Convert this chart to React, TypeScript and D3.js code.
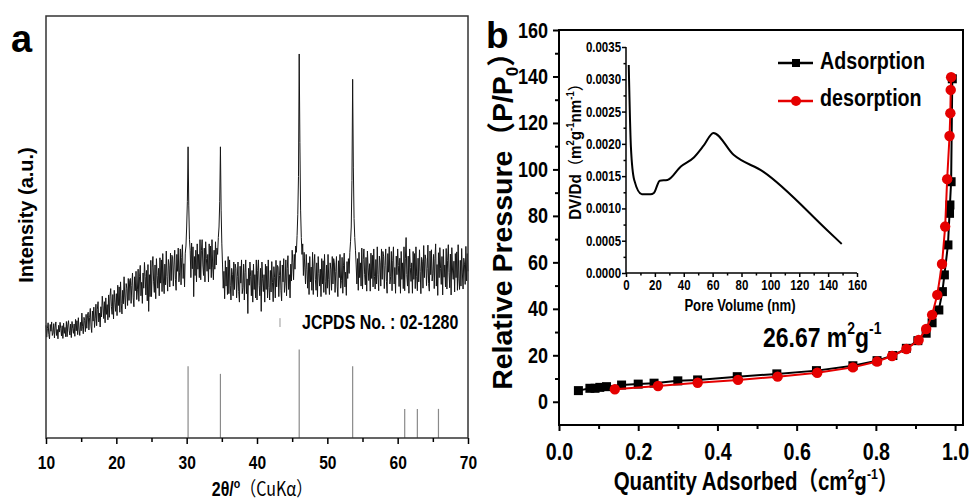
import React, { useEffect, useRef } from 'react'
import * as d3 from 'd3'

// panel a: XRD pattern, intensity (a.u.) read every 0.1 deg from 10 to 70 (one row per degree)
const thetaStart = 10
const thetaStep = 0.1
const xrdIntensity = [
  26.7, 23.9, 25.9, 27.3, 24.5, 23.5, 26.9, 25.3, 27.5, 24.3,
  24.9, 27.1, 23.7, 26.3, 27.5, 24.3, 25.7, 23.5, 26.7, 25.1,
  27.4, 26.0, 24.2, 26.6, 23.6, 27.2, 24.8, 26.2, 24.0, 27.6,
  24.0, 26.8, 27.8, 25.4, 24.4, 27.0, 23.8, 27.6, 26.0, 24.8,
  27.0, 24.1, 28.1, 25.4, 27.8, 24.5, 28.5, 25.6, 24.3, 27.4,
  25.4, 29.6, 26.5, 24.7, 28.6, 27.8, 25.2, 29.3, 26.0, 29.1,
  29.8, 25.6, 28.6, 30.7, 26.5, 25.0, 30.1, 27.7, 31.0, 26.2,
  28.4, 31.7, 26.6, 30.5, 32.3, 27.5, 29.6, 26.3, 31.1, 28.7,
  33.6, 31.3, 28.3, 32.3, 27.3, 33.2, 29.3, 31.6, 28.0, 33.9,
  28.6, 33.6, 35.4, 31.1, 29.3, 34.0, 28.2, 35.0, 32.2, 30.0,
  34.2, 29.0, 36.2, 31.4, 35.8, 29.8, 37.0, 31.8, 29.4, 35.0,
  31.8, 38.2, 33.4, 30.6, 36.6, 35.4, 31.4, 37.8, 32.6, 37.4,
  37.8, 31.9, 36.1, 39.1, 33.2, 31.1, 38.2, 34.9, 39.5, 32.8,
  35.1, 40.0, 32.4, 38.2, 40.9, 33.7, 36.9, 31.9, 39.1, 35.5,
  41.6, 38.3, 33.9, 39.7, 32.5, 41.1, 30.0, 38.7, 33.5, 42.1,
  33.5, 40.5, 43.0, 37.0, 34.5, 41.0, 33.0, 42.5, 38.5, 35.5,
  40.2, 33.7, 42.7, 36.7, 42.2, 34.7, 43.7, 37.2, 34.2, 41.2,
  36.3, 44.3, 38.3, 34.8, 42.3, 40.8, 35.8, 43.8, 37.3, 43.3,
  43.0, 36.0, 41.0, 44.5, 37.5, 35.0, 43.5, 39.5, 45.0, 37.0,
  39.3, 44.8, 36.3, 42.8, 45.8, 37.8, 41.3, 35.8, 43.8, 45.5,
  50.0, 56.0, 69.0, 55.0, 47.0, 44.5, 38.0, 46.2, 40.1, 45.3,
  33.5, 43.0, 38.5, 44.5, 37.0, 46.0, 40.0, 43.5, 38.0, 47.0,
  37.5, 44.5, 47.0, 41.0, 38.5, 45.0, 37.0, 46.5, 42.5, 39.5,
  43.5, 37.0, 46.0, 40.0, 45.5, 38.0, 47.0, 40.5, 37.5, 44.5,
  40.0, 46.5, 41.0, 45.0, 43.5, 47.5, 50.0, 56.0, 69.0, 54.0,
  46.0, 41.0, 35.5, 39.5, 33.0, 42.0, 36.0, 40.5, 34.0, 43.0,
  34.2, 42.2, 36.2, 32.7, 40.2, 38.7, 33.7, 41.7, 35.2, 41.2,
  40.2, 33.2, 38.2, 41.7, 34.7, 32.2, 40.7, 36.7, 42.2, 34.2,
  35.7, 41.2, 32.7, 39.2, 42.2, 34.2, 37.7, 29.5, 40.2, 36.2,
  41.7, 38.2, 33.7, 39.7, 32.2, 41.2, 35.2, 38.7, 33.2, 42.2,
  32.7, 39.7, 42.2, 36.2, 33.7, 40.2, 30.0, 41.7, 37.7, 34.7,
  38.7, 32.2, 41.2, 35.2, 40.7, 33.2, 42.2, 35.7, 32.7, 39.7,
  34.6, 41.8, 36.9, 32.3, 40.6, 38.1, 33.2, 42.1, 35.8, 40.9,
  40.5, 33.5, 38.5, 42.0, 35.0, 32.5, 41.0, 37.0, 42.5, 34.5,
  36.7, 42.2, 33.7, 40.2, 43.2, 35.2, 38.7, 33.2, 41.2, 37.2,
  44.5, 41.5, 37.5, 43.5, 40.0, 45.5, 44.0, 48.0, 53.0, 62.0,
  91.0, 70.0, 54.0, 47.5, 43.5, 46.0, 38.5, 44.0, 40.5, 36.5,
  43.5, 40.0, 35.5, 41.5, 34.0, 43.0, 37.0, 40.5, 35.0, 44.0,
  34.0, 41.0, 43.5, 37.5, 35.0, 41.5, 33.5, 43.0, 39.0, 36.0,
  40.0, 33.5, 42.5, 36.5, 42.0, 34.5, 43.5, 37.0, 34.0, 41.0,
  35.5, 43.5, 37.5, 34.0, 41.5, 40.0, 35.0, 43.0, 36.5, 42.5,
  41.5, 34.5, 39.5, 43.0, 36.0, 33.5, 42.0, 38.0, 43.5, 35.5,
  37.3, 42.8, 34.3, 40.8, 43.8, 35.8, 39.3, 33.8, 41.8, 37.8,
  42.5, 39.0, 44.0, 46.5, 50.0, 61.0, 85.0, 64.0, 52.0, 47.5,
  44.5, 41.0, 36.5, 42.5, 35.0, 44.0, 38.0, 41.5, 36.0, 45.0,
  35.3, 42.3, 44.8, 38.8, 36.3, 42.8, 34.8, 44.3, 40.3, 37.3,
  41.3, 34.8, 43.8, 37.8, 43.3, 35.8, 44.8, 38.3, 35.3, 42.3,
  36.5, 45.3, 38.7, 34.9, 43.1, 41.5, 36.0, 44.8, 37.6, 44.2,
  43.1, 35.4, 40.9, 44.8, 37.1, 34.3, 43.7, 39.3, 45.3, 36.5,
  38.2, 44.2, 34.9, 42.0, 45.3, 36.5, 40.4, 34.3, 43.1, 38.7,
  44.8, 40.9, 35.9, 42.6, 34.3, 44.2, 37.6, 41.5, 35.4, 45.3,
  34.9, 42.6, 47.5, 38.7, 36.0, 43.1, 34.3, 44.8, 40.4, 37.1,
  41.5, 34.3, 44.2, 37.6, 43.7, 35.4, 45.3, 38.2, 34.9, 42.6,
  37.0, 44.6, 39.5, 34.2, 42.8, 41.9, 35.5, 45.6, 38.0, 43.4,
  42.4, 36.1, 40.2, 45.7, 36.6, 34.8, 44.3, 38.7, 44.6, 37.2,
  38.9, 43.5, 35.4, 42.6, 46.0, 36.0, 41.1, 33.8, 43.9, 38.0,
  45.1, 40.2, 36.4, 43.0, 33.9, 44.7, 38.1, 41.0, 35.8, 44.9,
  35.3, 42.0, 45.8, 39.2, 35.6, 43.6, 33.9, 45.1, 39.8, 37.6,
  41.9, 34.6, 43.7, 38.0, 44.1, 35.0, 45.8, 37.7, 35.2, 42.1,
  36.0, 44.9, 39.1, 35.3, 42.6, 41.2, 36.4, 45.4, 37.2, 43.7,
  39.5
]

// JCPDS 02-1280 reference lines
const jcpdsTheta = [30.2, 34.8, 46.0, 53.6, 61.0, 62.8, 65.8]
const jcpdsHeight = [17, 15.2, 21, 17, 6.9, 6.9, 6.9]
const xrdTicks = [10, 20, 30, 40, 50, 60, 70]
const xrdMinor = [15, 25, 35, 45, 55, 65]

// panel b: isotherm
const adsX = [0.049, 0.078, 0.091, 0.103, 0.12, 0.158, 0.2, 0.24, 0.30, 0.35, 0.45, 0.55, 0.65, 0.742, 0.803, 0.843, 0.877, 0.906, 0.927, 0.942, 0.959, 0.968, 0.973, 0.982, 0.986, 0.987, 0.99, 0.993]
const adsY = [4.8, 5.8, 5.8, 6.2, 6.5, 7.2, 7.6, 8.0, 9.0, 9.4, 10.8, 12.0, 13.4, 15.5, 17.7, 19.9, 23.0, 26.3, 29.5, 34, 39.5, 47.4, 54.6, 67.5, 81.1, 84.7, 94.7, 139]
const desX = [0.141, 0.25, 0.35, 0.452, 0.552, 0.652, 0.742, 0.803, 0.841, 0.877, 0.908, 0.927, 0.942, 0.955, 0.967, 0.975, 0.98, 0.986, 0.988, 0.989, 0.99]
const desY = [5.4, 6.8, 8.2, 9.4, 10.8, 12.5, 14.8, 17.3, 19.7, 22.7, 26.6, 31.3, 37.4, 46, 59.3, 75.4, 95.8, 114.4, 124.2, 134.2, 139.7]
const isoXTicks = [0, 0.2, 0.4, 0.6, 0.8, 1.0]
const isoXMinor = [0.1, 0.3, 0.5, 0.7, 0.9]
const isoYTicks = [0, 20, 40, 60, 80, 100, 120, 140, 160]
const isoYMinor = [10, 30, 50, 70, 90, 110, 130, 150]

// inset: pore size distribution
const poreSize = [1.9, 3.4, 5.7, 11, 17, 19.3, 23.4, 28.7, 38, 47, 54, 60.5, 74.5, 95, 139, 149.4]
const poreDist = [0.00322, 0.00195, 0.00144, 0.00122, 0.00122, 0.00124, 0.00143, 0.00144, 0.00165, 0.00179, 0.00198, 0.00217, 0.00183, 0.00157, 0.00067, 0.00045]
const insetXTicks = [0, 20, 40, 60, 80, 100, 120, 140, 160]
const insetXMinor = [10, 30, 50, 70, 90, 110, 130, 150]
const insetYTicks = [0, 0.0005, 0.001, 0.0015, 0.002, 0.0025, 0.003, 0.0035]
const insetYMinor = [0.00025, 0.00075, 0.00125, 0.00175, 0.00225, 0.00275, 0.00325]

const SANS = "'Liberation Sans', Arial, 'Noto Sans CJK SC', sans-serif"
const CJK = "'Noto Sans CJK SC', sans-serif"
const SQUEEZE = 0.82 // no Arial Narrow here, so squeeze Arial bold

function styleAxis(g, size, width = 1.5) {
  g.select('.domain').remove()
  g.selectAll('line').attr('stroke', '#000').attr('stroke-width', width)
  g.selectAll('text')
    .attr('font-family', SANS)
    .attr('font-weight', 'bold')
    .attr('font-size', size)
    .attr('fill', '#000')
    .attr('transform', function () {
      const x = +(d3.select(this).attr('x') || 0)
      return `matrix(${SQUEEZE},0,0,1,${x * (1 - SQUEEZE)},0)`
    })
}

// bold condensed text placed by translate so the squeeze keeps its anchor
function narrowText(g, x, y, size, anchor = 'start', rotate = 0, squeeze = SQUEEZE) {
  return g.append('text')
    .attr('transform', `translate(${x},${y}) rotate(${rotate}) scale(${squeeze},1)`)
    .attr('text-anchor', anchor)
    .attr('font-family', SANS)
    .attr('font-weight', 'bold')
    .attr('font-size', size)
}

function drawXrd(g) {
  const x = d3.scaleLinear().domain([10, 70]).range([46, 468])
  const y = d3.scaleLinear().domain([0, 100]).range([438, 16])

  const line = d3.line<number>()
    .x((d, i) => x(thetaStart + i * thetaStep))
    .y(d => y(d))
  g.append('path')
    .attr('d', line(xrdIntensity))
    .attr('fill', 'none')
    .attr('stroke', '#161616')
    .attr('stroke-width', 1)

  g.selectAll('.stick')
    .data(jcpdsTheta).enter()
    .append('line')
      .attr('x1', d => x(d)).attr('x2', d => x(d))
      .attr('y1', y(0)).attr('y2', (d, i) => y(jcpdsHeight[i]))
      .attr('stroke', '#8a8a8a')
      .attr('stroke-width', 1.2)
  // the small mark left of the label
  g.append('line')
    .attr('x1', x(43.27)).attr('x2', x(43.27))
    .attr('y1', y(26.3)).attr('y2', y(28.4))
    .attr('stroke', '#999')

  g.append('rect')
    .attr('x', 46).attr('y', 16).attr('width', 422).attr('height', 422)
    .attr('fill', 'none').attr('stroke', '#333').attr('stroke-width', 1.5)

  const major = g.append('g').attr('transform', 'translate(0,438)')
    .call(d3.axisBottom(x).tickValues(xrdTicks).tickSize(6).tickPadding(12).tickFormat(d3.format('d')))
  styleAxis(major, 19)
  const minor = g.append('g').attr('transform', 'translate(0,438)')
    .call(d3.axisBottom(x).tickValues(xrdMinor).tickSize(4).tickFormat(() => ''))
  styleAxis(minor, 19)

  narrowText(g, 302, 329, 19.5).text('JCPDS No. : 02-1280')

  g.append('text')
    .attr('transform', 'translate(33,215) rotate(-90)')
    .attr('text-anchor', 'middle')
    .attr('font-family', SANS).attr('font-weight', 'bold').attr('font-size', 20)
    .text('Intensity (a.u.)')

  const xt = narrowText(g, 262, 496, 19.5, 'middle')
  xt.append('tspan').text('2θ/')
  xt.append('tspan').attr('font-size', 13).attr('dy', -8).text('o')
  xt.append('tspan').attr('dy', 8).attr('font-family', CJK).attr('font-weight', 'normal').text('（CuKα）')

  g.append('text')
    .attr('x', 11).attr('y', 52)
    .attr('font-family', SANS).attr('font-weight', 'bold').attr('font-size', 38)
    .text('a')
}

function drawIsotherm(g) {
  const x = d3.scaleLinear().domain([0, 1.02]).range([559, 963])
  const y = d3.scaleLinear().domain([-10, 160]).range([425, 30])

  const xMaj = g.append('g').attr('transform', 'translate(0,425)')
    .call(d3.axisBottom(x).tickValues(isoXTicks).tickSize(6).tickPadding(12).tickFormat(d3.format('.1f')))
  styleAxis(xMaj, 24, 2)
  const xMin = g.append('g').attr('transform', 'translate(0,425)')
    .call(d3.axisBottom(x).tickValues(isoXMinor).tickSize(4).tickFormat(() => ''))
  styleAxis(xMin, 24, 2)
  const yMaj = g.append('g').attr('transform', 'translate(559,0)')
    .call(d3.axisLeft(y).tickValues(isoYTicks).tickSize(6).tickPadding(5).tickFormat(d3.format('d')))
  styleAxis(yMaj, 22, 2)
  const yMin = g.append('g').attr('transform', 'translate(559,0)')
    .call(d3.axisLeft(y).tickValues(isoYMinor).tickSize(4).tickFormat(() => ''))
  styleAxis(yMin, 22, 2)

  g.append('rect')
    .attr('x', 559).attr('y', 30).attr('width', 404).attr('height', 395)
    .attr('fill', 'none').attr('stroke', '#000').attr('stroke-width', 2)

  const line = d3.line<number>()
  const ads = adsX.map((v, i) => [x(v), y(adsY[i])] as [number, number])
  const des = desX.map((v, i) => [x(v), y(desY[i])] as [number, number])

  g.append('path').attr('d', line(ads))
    .attr('fill', 'none').attr('stroke', '#000').attr('stroke-width', 2)
  g.selectAll('.sq')
    .data(ads).enter()
    .append('rect')
      .attr('x', d => d[0] - 4.5).attr('y', d => d[1] - 4.5)
      .attr('width', 9).attr('height', 9)
      .attr('fill', '#000')

  g.append('path').attr('d', line(des))
    .attr('fill', 'none').attr('stroke', '#e50000').attr('stroke-width', 2)
  g.selectAll('.ci')
    .data(des).enter()
    .append('circle')
      .attr('cx', d => d[0]).attr('cy', d => d[1]).attr('r', 5.2)
      .attr('fill', '#e50000')

  // legend
  g.append('line').attr('x1', 778).attr('x2', 813).attr('y1', 63).attr('y2', 63)
    .attr('stroke', '#000').attr('stroke-width', 2.5)
  g.append('rect').attr('x', 792).attr('y', 59).attr('width', 8).attr('height', 8).attr('fill', '#000')
  g.append('line').attr('x1', 778).attr('x2', 813).attr('y1', 101).attr('y2', 101)
    .attr('stroke', '#e50000').attr('stroke-width', 2.5)
  g.append('circle').attr('cx', 796).attr('cy', 101).attr('r', 5).attr('fill', '#e50000')
  narrowText(g, 820, 69, 24).text('Adsorption')
  narrowText(g, 820, 106, 24).text('desorption')

  const note = narrowText(g, 763, 347, 28)
  note.append('tspan').text('26.67 m')
  note.append('tspan').attr('font-size', 17).attr('dy', -13).text('2')
  note.append('tspan').attr('dy', 13).text('g')
  note.append('tspan').attr('font-size', 17).attr('dy', -13).text('-1')

  const xt = narrowText(g, 756, 490, 25, 'middle')
  xt.append('tspan').text('Quantity Adsorbed')
  xt.append('tspan').attr('font-family', CJK).text('（')
  xt.append('tspan').text('cm')
  xt.append('tspan').attr('font-size', 15).attr('dy', -11).text('2')
  xt.append('tspan').attr('dy', 11).text('g')
  xt.append('tspan').attr('font-size', 15).attr('dy', -11).text('-1')
  xt.append('tspan').attr('dy', 11).attr('font-family', CJK).text('）')

  const yt = g.append('text').attr('transform', 'translate(512,214) rotate(-90)')
    .attr('text-anchor', 'middle')
    .attr('font-family', SANS).attr('font-weight', 'bold').attr('font-size', 28.5)
  yt.append('tspan').text('Relative Pressure')
  yt.append('tspan').attr('font-family', CJK).text('（')
  yt.append('tspan').text('P/P')
  yt.append('tspan').attr('font-size', 17).attr('dy', 6).text('0')
  yt.append('tspan').attr('dy', -6).attr('font-family', CJK).text('）')

  g.append('text')
    .attr('x', 486).attr('y', 48)
    .attr('font-family', SANS).attr('font-weight', 'bold').attr('font-size', 37)
    .text('b')
}

function drawInset(g) {
  const x = d3.scaleLinear().domain([0, 160]).range([626, 857])
  const y = d3.scaleLinear().domain([0, 0.0035]).range([273, 47])

  const xMaj = g.append('g').attr('transform', 'translate(0,273)')
    .call(d3.axisBottom(x).tickValues(insetXTicks).tickSize(4).tickPadding(3).tickFormat(d3.format('d')))
  styleAxis(xMaj, 14)
  const xMin = g.append('g').attr('transform', 'translate(0,273)')
    .call(d3.axisBottom(x).tickValues(insetXMinor).tickSize(2.5).tickFormat(() => ''))
  styleAxis(xMin, 14)
  const yMaj = g.append('g').attr('transform', 'translate(626,0)')
    .call(d3.axisLeft(y).tickValues(insetYTicks).tickSize(4).tickPadding(1).tickFormat(d3.format('.4f')))
  styleAxis(yMaj, 14)
  const yMin = g.append('g').attr('transform', 'translate(626,0)')
    .call(d3.axisLeft(y).tickValues(insetYMinor).tickSize(2.5).tickFormat(() => ''))
  styleAxis(yMin, 14)

  g.append('path')
    .attr('d', `M626,47V273H857`)
    .attr('fill', 'none').attr('stroke', '#000').attr('stroke-width', 1.5)

  const line = d3.line<number>()
    .x((d, i) => x(poreSize[i]))
    .y(d => y(d))
    .curve(d3.curveMonotoneX)
  g.append('path').attr('d', line(poreDist))
    .attr('fill', 'none').attr('stroke', '#000').attr('stroke-width', 2)

  narrowText(g, 740, 311, 16, 'middle').text('Pore Volume (nm)')

  const yt = narrowText(g, 581, 148, 16, 'middle', -90, 0.95)
  yt.append('tspan').text('DV/Dd')
  yt.append('tspan').attr('font-family', CJK).attr('font-weight', 'normal').text('（')
  yt.append('tspan').text('m')
  yt.append('tspan').attr('font-size', 10).attr('dy', -7).text('2')
  yt.append('tspan').attr('dy', 7).text('g')
  yt.append('tspan').attr('font-size', 10).attr('dy', -7).text('-1')
  yt.append('tspan').attr('dy', 7).text('nm')
  yt.append('tspan').attr('font-size', 10).attr('dy', -7).text('-1')
  yt.append('tspan').attr('dy', 7).attr('font-family', CJK).attr('font-weight', 'normal').text('）')
}

export default function App() {
  const ref = useRef<SVGSVGElement>(null)

  useEffect(() => {
    const svg = d3.select(ref.current)
    svg.selectAll('*').remove()
    drawXrd(svg.append('g'))
    drawIsotherm(svg.append('g'))
    drawInset(svg.append('g'))
  }, [])

  return (
    <svg
      ref={ref}
      width={971}
      height={500}
      style={{ position: 'absolute', left: 0, top: 0, background: '#fff', display: 'block' }}
    />
  )
}
